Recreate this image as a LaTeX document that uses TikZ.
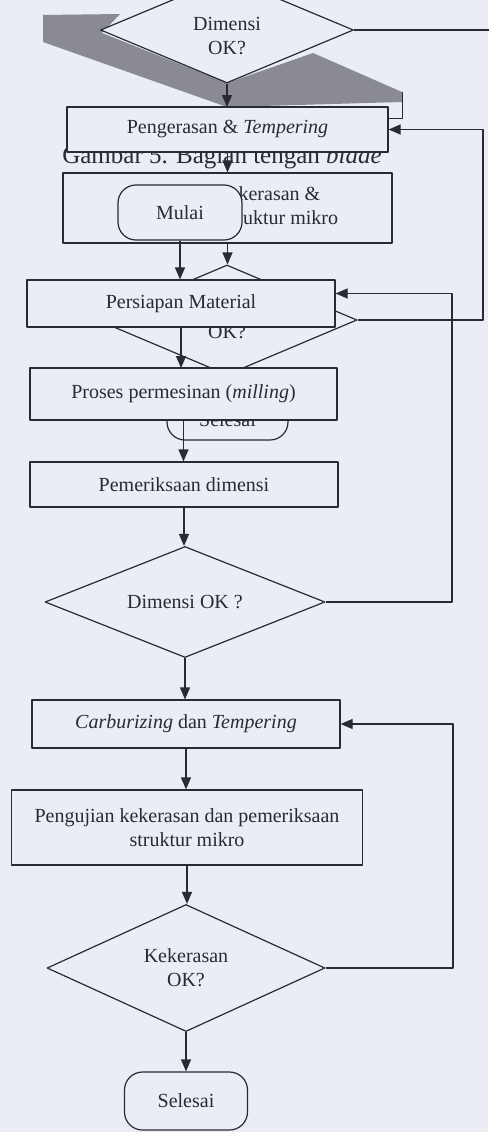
\documentclass[tikz,border=0pt]{standalone}
\usepackage{fontspec}
\setmainfont{Liberation Serif}
\usetikzlibrary{arrows.meta,positioning,calc,shapes.geometric}

\definecolor{paper}{RGB}{234,237,243}
\definecolor{ink}{RGB}{42,42,50}
\definecolor{smudge}{RGB}{138,138,146}

\begin{document}
\begin{tikzpicture}[
    x=1pt, y=-1pt,
    >={Triangle[length=12pt,width=10pt]},
    line join=round,
    font=\fontsize{20}{24}\selectfont,
    every node/.style={text=ink},
    block/.style={
        draw=ink,
        line width=1.2pt,
        fill=paper,
        rectangle,
        inner sep=0pt,
        align=center
    },
    decision/.style={block, diamond, aspect=2.5},
    terminal/.style={block, rounded corners=18pt},
    signal/.style={->, draw=ink, line width=1.2pt},
    caption/.style={font=\fontsize{25}{30}\selectfont, anchor=base}
]

% =========================
% Page
% =========================
\fill[paper] (0,0) rectangle (488,1132);
\useasboundingbox (0,0) rectangle (488,1132);

% =========================
% Upper (overprinted) part
% =========================
\fill[smudge] (43,15) -- (120,14) -- (102,33) -- (227,83) -- (313,53)
    -- (402,92) -- (402,102) -- (227,107) -- (43,42) -- cycle;
\draw[ink, line width=0.8pt] (402,92) -- (402,118) -- (388,118);

\node[decision, minimum width=253pt, minimum height=106pt] (dimA) at (227,30) {\mbox{}\\[1pt]Dimensi\\OK?};
\coordinate (offA) at (490,30);
\draw[ink, line width=1.2pt] (dimA.east) -- (offA);

\node[caption] (capt) at (222,163) {Gambar 5. Bagian tengah \emph{blade}};

\draw[signal] (dimA.south) -- (227,107);
\node[block, minimum width=321pt, minimum height=45pt] (harden) at (227.5,129.5) {Pengerasan \& \emph{Tempering}};

% only the right half of this text shows beside Mulai
\node[block, minimum width=329pt, minimum height=70pt] (testA) at (227.5,208)
    {\phantom{Pengujian ke}kerasan \&\\\phantom{pemeriksaan str}uktur mikro};
\draw[signal] (harden.south) -- (harden.south |- testA.north);

\node[terminal, minimum width=124pt, minimum height=55pt] (start) at (180,212.5) {Mulai};

\node[decision, minimum width=260pt, minimum height=110pt] (hardA) at (227,320) {\phantom{Kekerasan}\\OK?};
\draw[signal] (testA.south) -- (testA.south |- hardA.north);

\node[block, minimum width=308pt, minimum height=47pt] (prep) at (181,303.5) {Persiapan Material};
\draw[signal] (start.south) -- (start.south |- prep.north);

\node[terminal, minimum width=121pt, minimum height=58pt] (endA) at (227.5,411) {\raisebox{-8pt}[14pt][0pt]{Selesai}};
\draw[signal] (prep.south) -- (prep.south |- 0,368);

\node[block, minimum width=307pt, minimum height=52pt] (mill) at (183.5,394) {Proses permesinan (\emph{milling})};

% =========================
% Lower chain
% =========================
\node[block, minimum width=308pt, minimum height=45pt] (check) at (184,484.5) {Pemeriksaan dimensi};
\draw[signal] (mill.south) -- (mill.south |- check.north);

\node[decision, minimum width=280pt, minimum height=111pt] (dimB) at (185,602) {Dimensi OK ?};
\draw[signal] (check.south) -- (check.south |- dimB.north);

\node[block, minimum width=308pt, minimum height=48pt] (carb) at (186,724) {\emph{Carburizing} dan \emph{Tempering}};
\draw[signal] (dimB.south) -- (dimB.south |- carb.north);

\node[block, minimum width=351pt, minimum height=75pt] (testB) at (187,827.5) {Pengujian kekerasan dan pemeriksaan\\struktur mikro};
\draw[signal] (carb.south) -- (carb.south |- testB.north);

\node[decision, minimum width=278pt, minimum height=127pt] (hardB) at (186,968) {Kekerasan\\OK?};
\draw[signal] (testB.south) -- (testB.south |- hardB.north);

\node[terminal, minimum width=123pt, minimum height=58pt] (endB) at (186,1101) {Selesai};
\draw[signal] (hardB.south) -- (hardB.south |- endB.north);

% =========================
% Feedback loops
% =========================
\draw[signal] (hardA.east) -- (483,320) |- (harden.east);
\draw[signal] (dimB.east) -- (452,602) |- ([yshift=10pt]prep.east);
\draw[signal] (hardB.east) -- (453,968) |- (carb.east);

\end{tikzpicture}
\end{document}
